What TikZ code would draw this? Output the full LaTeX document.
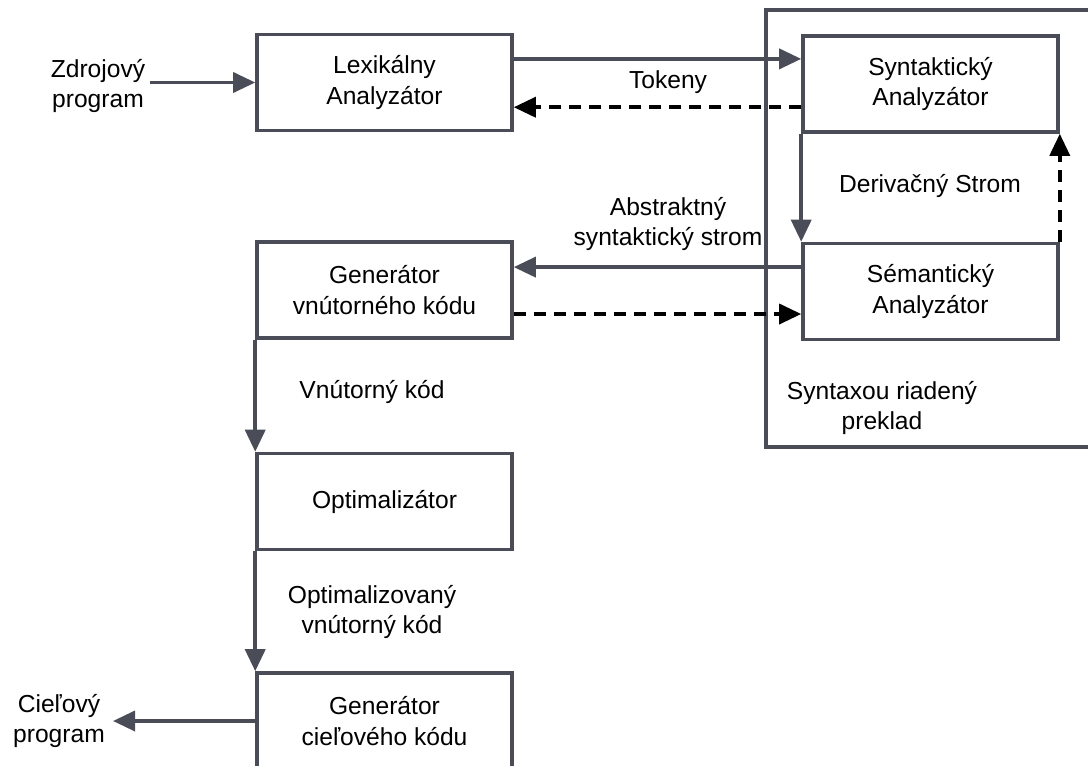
\documentclass[tikz,border=0pt]{standalone}
\usepackage{fontspec}
\setmainfont{Liberation Sans}
\usetikzlibrary{arrows.meta}
\definecolor{boxgray}{RGB}{74,77,88}

\begin{document}
\begin{tikzpicture}[x=0.025cm,y=-0.025cm,
    box/.style={draw=boxgray,line width=2.5pt,minimum width=6.375cm,minimum height=2.4cm,align=center,inner sep=0pt,font=\fontsize{17.5}{21.5}\selectfont},
    txt/.style={align=center,inner sep=0pt,font=\fontsize{17.5}{21.5}\selectfont},
    flow/.style={draw=boxgray,line width=2.5pt,-{Triangle[length=0.55cm,width=0.5cm]}},
    back/.style={draw=black,line width=2.5pt,dash pattern=on 0.3cm off 0.2cm,-{Triangle[length=0.55cm,width=0.5cm]}}]
    \useasboundingbox (0,0) rectangle (1088,765);
    % syntaxou riadeny preklad
    \draw[draw=boxgray,line width=2.5pt] (766,10) rectangle (1110,447);
    \node[txt] (sdt) at (882,408) {Syntaxou riadený\\preklad};
    % boxes
    \node[box] (lex) at (384.5,82.5) {Lexikálny\\Analyzátor};
    \node[box] (syn) at (930.5,84) {Syntaktický\\Analyzátor};
    \node[box] (sem) at (930.5,291.5) {Sémantický\\Analyzátor};
    \node[box] (gen) at (384.5,290) {Generátor\\vnútorného kódu};
    \node[box] (opt) at (384.5,501.5) {Optimalizátor};
    \node[box] (genc) at (384.5,721) {Generátor\\cieľového kódu};
    % texts
    \node[txt] (src) at (98,86) {Zdrojový\\program};
    \node[txt] (tgt) at (59,721) {Cieľový\\program};
    \coordinate (srcend) at (150,82.5);
    \coordinate (tgtend) at (113,721);
    \node[txt] (tok) at (668,82) {Tokeny};
    \node[txt] (der) at (930,186) {Derivačný Strom};
    \node[txt] (ast) at (668,224) {Abstraktný\\syntaktický strom};
    \node[txt] (vk) at (372,392) {Vnútorný kód};
    \node[txt] (ovk) at (372,612) {Optimalizovaný\\vnútorný kód};
    % arrows
    \draw[flow] (srcend) -- (lex.west);
    \draw[flow] ([yshift=0.59cm]lex.east) -- ([yshift=0.59cm]lex.east -| syn.west);
    \draw[back] ([yshift=-0.58cm]syn.west) -- ([yshift=-0.58cm]syn.west -| lex.east);
    \draw[flow] (syn.south west) -- (sem.north west);
    \draw[back] (sem.north east) -- (syn.south east);
    \draw[flow] ([yshift=0.61cm]sem.west) -- ([yshift=0.61cm]sem.west -| gen.east);
    \draw[back] ([yshift=-0.6cm]gen.east) -- ([yshift=-0.6cm]gen.east -| sem.west);
    \draw[flow] (gen.south west) -- (opt.north west);
    \draw[flow] (opt.south west) -- (genc.north west);
    \draw[flow] (genc.west) -- (tgtend);
\end{tikzpicture}
\end{document}
